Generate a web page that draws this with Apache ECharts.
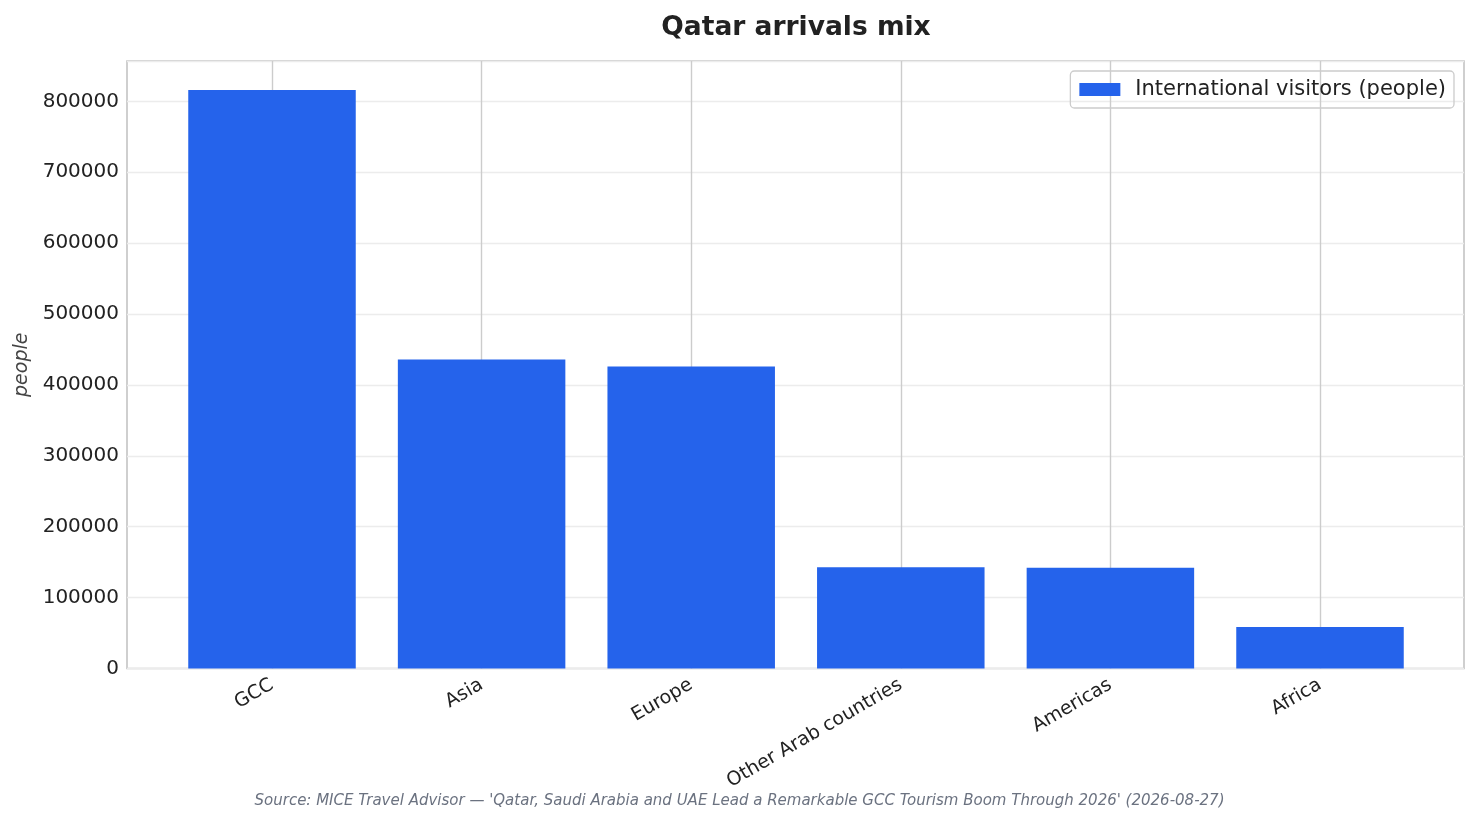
<!DOCTYPE html>
<html>
<head>
<meta charset="utf-8">
<script src="https://cdn.jsdelivr.net/npm/echarts@6/dist/echarts.min.js"></script>
<style>html,body{margin:0;padding:0;background:#fff}#c{width:1479px;height:824px}</style>
</head>
<body>
<div id="c"></div>
<script>
const categories = ["GCC", "Asia", "Europe", "Other Arab countries", "Americas", "Africa"];
const visitors = [816000, 436000, 426000, 143000, 142000, 58500];
const seriesName = "International visitors (people)";
const yTickInterval = 100000;
const yMax = 857000;

const chart = echarts.init(document.getElementById('c'), null, {renderer: 'canvas'});
const font = 'DejaVu Sans';
chart.setOption({
  animation: false,
  backgroundColor: '#ffffff',
  textStyle: {fontFamily: font},
  title: {
    text: 'Qatar arrivals mix',
    left: 791, top: 10, textAlign: 'center',
    textStyle: {fontFamily: font, fontSize: 26.5, fontWeight: 'bold', color: '#222222'}
  },
  legend: {
    data: [seriesName],
    right: 25, top: 71,
    itemWidth: 41, itemHeight: 13, itemGap: 8,
    padding: [8, 8, 8, 9],
    borderColor: '#cccccc', borderWidth: 1.3, borderRadius: 4,
    textStyle: {fontFamily: font, fontSize: 21, color: '#222222', padding: [0, 0, 0, 10]},
    icon: 'rect'
  },
  graphic: [{
    type: 'text', left: 'center', top: 794,
    style: {
      text: "Source: MICE Travel Advisor \u2014 'Qatar, Saudi Arabia and UAE Lead a Remarkable GCC Tourism Boom Through 2026' (2026-08-27)",
      font: 'italic 15px "DejaVu Sans"', fill: '#6b7280'
    }
  }],
  grid: [
    {left: 272, right: 159, top: 61, bottom: 155.5},
    {left: 127, right: 15, top: 61, bottom: 155.5, show: true, borderColor: '#c4c4c4', borderWidth: 1.6, backgroundColor: 'transparent'}
  ],
  xAxis: [
    {
      type: 'category', gridIndex: 0, data: categories, boundaryGap: false,
      axisLine: {show: false}, axisTick: {show: false},
      splitLine: {show: true, lineStyle: {color: '#cccccc', width: 1.4}},
      axisLabel: {rotate: 30, margin: 15, fontFamily: font, fontSize: 19, color: '#222222'}
    },
    {type: 'value', gridIndex: 1, min: 0, max: 1, show: false}
  ],
  yAxis: [
    {type: 'value', gridIndex: 0, min: 0, max: yMax, interval: yTickInterval, show: false, splitLine: {show: false}},
    {
      type: 'value', gridIndex: 1, min: 0, max: yMax, interval: yTickInterval,
      axisLine: {show: false}, axisTick: {show: false},
      splitLine: {show: true, lineStyle: {color: '#ececec', width: 1.3}},
      axisLabel: {showMaxLabel: false, margin: 8, fontFamily: font, fontSize: 20, color: '#222222',
        formatter: function (v) { return String(v); }},
      name: 'people', nameLocation: 'middle', nameGap: 88,
      nameTextStyle: {fontFamily: font, fontSize: 19, fontStyle: 'italic', color: '#444444'}
    }
  ],
  series: [{
    name: seriesName, type: 'bar', data: visitors,
    xAxisIndex: 0, yAxisIndex: 0,
    barWidth: 167.5, clip: false, z: 3,
    itemStyle: {color: '#2563eb'}
  }]
});
</script>
</body>
</html>
